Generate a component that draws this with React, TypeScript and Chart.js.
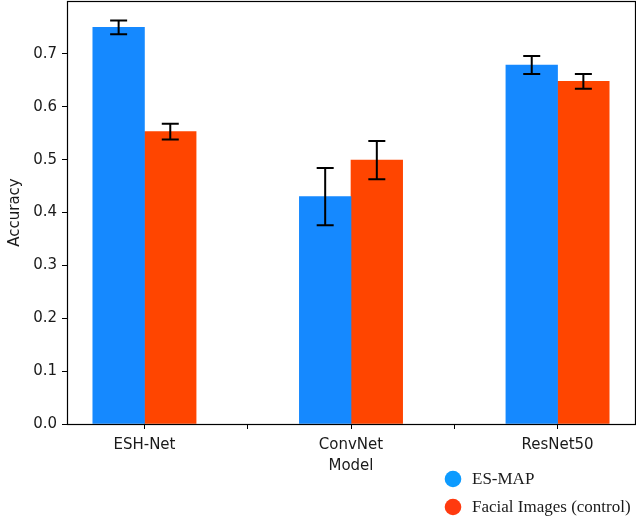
import React, { useEffect, useRef } from 'react';
import { Chart, registerables } from 'chart.js';

Chart.register(...registerables);

const categories = ['ESH-Net', 'ConvNet', 'ResNet50'];
const seriesNames = ['ES-MAP', 'Facial Images (control)'];
const esMapValues = [0.750, 0.430, 0.679];
const esMapErrors = [0.013, 0.054, 0.017];
const facialValues = [0.553, 0.499, 0.648];
const facialErrors = [0.015, 0.036, 0.014];
const yTickValues = [0, 0.1, 0.2, 0.3, 0.4, 0.5, 0.6, 0.7];
const xTickValues = [0, 0.5, 1, 1.5, 2];
const barColors = ['#1589ff', '#ff4500'];
const legendColors = ['#0d9bff', '#ff3a0f'];

const FONT = "'DejaVu Sans', sans-serif";

const errorBarPlugin = {
  id: 'errorBars',
  afterDatasetsDraw(chart: any) {
    const { ctx } = chart;
    const yScale = chart.scales.y;
    ctx.save();
    ctx.strokeStyle = '#000';
    ctx.lineWidth = 2;
    chart.data.datasets.forEach((ds: any, di: number) => {
      const meta = chart.getDatasetMeta(di);
      meta.data.forEach((bar: any, i: number) => {
        const v = ds.data[i].y;
        const e = ds.errors[i];
        const x = bar.x;
        const yTop = yScale.getPixelForValue(v + e);
        const yBot = yScale.getPixelForValue(v - e);
        const cap = 8.5;
        ctx.beginPath();
        ctx.moveTo(x, yTop);
        ctx.lineTo(x, yBot);
        ctx.moveTo(x - cap, yTop);
        ctx.lineTo(x + cap, yTop);
        ctx.moveTo(x - cap, yBot);
        ctx.lineTo(x + cap, yBot);
        ctx.stroke();
      });
    });
    ctx.restore();
  },
};

const framePlugin = {
  id: 'frame',
  afterDraw(chart: any) {
    const { ctx, chartArea } = chart;
    ctx.save();
    ctx.strokeStyle = '#000';
    ctx.lineWidth = 1.2;
    ctx.strokeRect(
      Math.round(chartArea.left) + 0.5,
      Math.round(chartArea.top) + 0.5,
      Math.round(chartArea.right - chartArea.left),
      Math.round(chartArea.bottom - chartArea.top)
    );
    ctx.restore();
  },
};

const legendPlugin = {
  id: 'customLegend',
  afterDraw(chart: any) {
    const { ctx } = chart;
    ctx.save();
    ctx.font = "17px 'Liberation Serif', 'Times New Roman', serif";
    ctx.textBaseline = 'middle';
    ctx.textAlign = 'left';
    const cx = 453;
    const rows = [479, 507];
    chart.data.datasets.forEach((ds: any, i: number) => {
      ctx.fillStyle = legendColors[i];
      ctx.beginPath();
      ctx.arc(cx, rows[i], 8.3, 0, Math.PI * 2);
      ctx.fill();
      ctx.fillStyle = '#1a1a1a';
      ctx.fillText(ds.label, 472, rows[i] + 1);
    });
    ctx.restore();
  },
};

export default function App() {
  const canvasRef = useRef<HTMLCanvasElement | null>(null);

  useEffect(() => {
    if (!canvasRef.current) return;
    const chart = new Chart(canvasRef.current, {
      type: 'bar',
      data: {
        datasets: [
          {
            label: seriesNames[0],
            data: esMapValues.map((v, i) => ({ x: i, y: v })),
            backgroundColor: barColors[0],
            errors: esMapErrors,
          } as any,
          {
            label: seriesNames[1],
            data: facialValues.map((v, i) => ({ x: i, y: v })),
            backgroundColor: barColors[1],
            errors: facialErrors,
          } as any,
        ],
      },
      options: {
        responsive: false,
        animation: false,
        events: [],
        categoryPercentage: 1,
        barPercentage: 1,
        layout: { padding: { top: 1, right: 1, left: 0, bottom: 0 } },
        plugins: {
          legend: { display: false },
          tooltip: { enabled: false },
        },
        scales: {
          x: {
            type: 'linear',
            min: -0.375,
            max: 2.375,
            offset: false,
            afterBuildTicks: (axis: any) => {
              axis.ticks = xTickValues.map((v) => ({ value: v }));
            },
            afterFit: (scale: any) => {
              scale.height = 97;
              scale.paddingLeft = 0;
              scale.paddingRight = 0;
            },
            border: { display: false },
            grid: {
              offset: false,
              drawOnChartArea: false,
              drawTicks: true,
              tickLength: 5,
              color: '#000',
              tickColor: '#000',
            },
            ticks: {
              autoSkip: false,
              maxRotation: 0,
              padding: 7,
              color: '#1a1a1a',
              font: { family: FONT, size: 15 },
              callback: (value: any) =>
                Number.isInteger(value) ? categories[value] : '',
            },
            title: {
              display: true,
              text: 'Model',
              color: '#1a1a1a',
              font: { family: FONT, size: 15 },
              padding: { top: 0, bottom: 46 },
            },
          },
          y: {
            type: 'linear',
            min: 0,
            max: 0.8,
            afterBuildTicks: (axis: any) => {
              axis.ticks = yTickValues.map((v) => ({ value: v }));
            },
            afterFit: (scale: any) => {
              scale.width = 67;
              scale.paddingTop = 0;
              scale.paddingBottom = 0;
            },
            border: { display: false },
            grid: {
              drawOnChartArea: false,
              drawTicks: true,
              tickLength: 5,
              color: '#000',
              tickColor: '#000',
            },
            ticks: {
              padding: 5,
              color: '#1a1a1a',
              font: { family: FONT, size: 15 },
              callback: (value: any) => Number(value).toFixed(1),
            },
            title: {
              display: true,
              text: 'Accuracy',
              color: '#1a1a1a',
              font: { family: FONT, size: 15 },
              padding: { top: 6, bottom: 0 },
            },
          },
        },
      } as any,
      plugins: [errorBarPlugin, framePlugin, legendPlugin],
    });
    return () => chart.destroy();
  }, []);

  return (
    <div style={{ position: 'fixed', left: 0, top: 0, width: 636, height: 521, background: '#fff' }}>
      <canvas ref={canvasRef} width={636} height={521} style={{ display: 'block' }} />
    </div>
  );
}
